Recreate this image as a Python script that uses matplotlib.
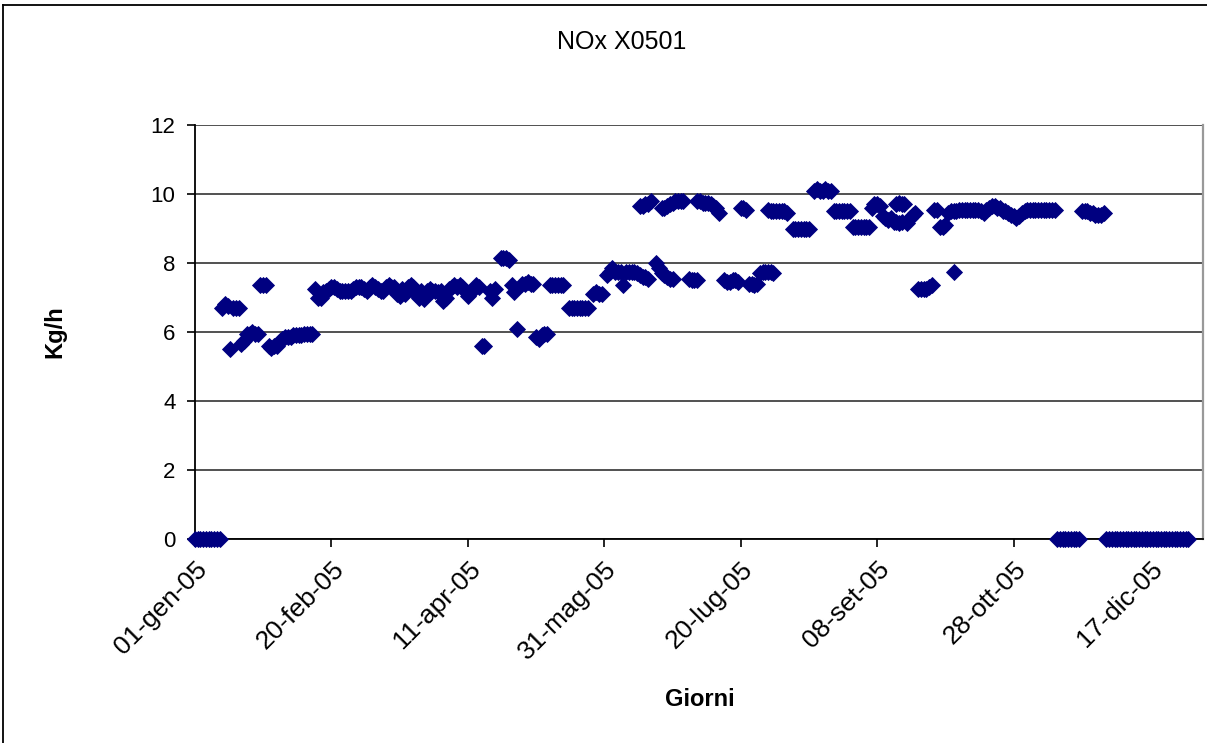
import matplotlib
matplotlib.use("Agg")
import matplotlib.pyplot as plt
from matplotlib.lines import Line2D

plt.rcParams['font.family'] = ['Liberation Sans', 'DejaVu Sans']

# ---------------- data (day offset from 01-gen-05, Kg/h) ----------------
giorni_1 = [0, 1, 2, 3, 4, 5, 6, 7, 8, 9,
            10, 11, 12, 13, 14, 15, 16,
            17, 18, 19, 20, 21, 22, 23,
            24, 25, 26,
            27, 28, 29, 30,
            31, 32, 33, 34, 35, 36, 37, 38, 39, 40, 41, 42, 43,
            44, 45, 46]
kgh_1 = [0, 0, 0, 0, 0, 0, 0, 0, 0, 0,
         6.7, 6.8, 6.75, 5.5, 6.7, 6.7, 6.7,
         5.65, 5.75, 5.95, 5.95, 6.0, 5.95, 5.95,
         7.35, 7.35, 7.35,
         5.6, 5.55, 5.6, 5.6,
         5.75, 5.8, 5.85, 5.85, 5.85, 5.9, 5.9, 5.9, 5.9, 5.95, 5.95, 5.95, 5.95,
         7.25, 7.0, 7.0]

giorni_2 = [47, 48, 49, 50, 51, 52, 53, 54, 55, 56,
            57, 58, 59, 60, 61, 62, 63, 64, 65, 66,
            67, 68, 69, 70, 71, 72, 73, 74, 75, 76,
            77, 78, 79, 80, 81, 82, 83, 84, 85, 86,
            87, 88, 89, 90, 91, 92, 93, 94, 95, 96,
            97, 98, 99, 100, 101, 102, 103, 104]
kgh_2 = [7.15, 7.2, 7.25, 7.3, 7.3, 7.25, 7.2, 7.2, 7.2, 7.2,
         7.2, 7.25, 7.3, 7.3, 7.3, 7.25, 7.2, 7.3, 7.35, 7.3,
         7.25, 7.2, 7.2, 7.3, 7.35, 7.3, 7.3, 7.1, 7.05, 7.25,
         7.1, 7.3, 7.35, 7.3, 7.1, 7.0, 7.2, 6.95, 7.2, 7.25,
         7.2, 7.2, 7.15, 7.2, 6.9, 7.0, 7.25, 7.3, 7.35, 7.3,
         7.35, 7.3, 7.2, 7.05, 7.15, 7.25, 7.35, 7.3]

giorni_3 = [105, 106, 108, 109, 110, 112, 113, 114, 115, 116, 117, 118,
            120, 121, 122, 123, 124, 125, 126, 127, 128, 129,
            130, 131, 132, 133, 134, 135,
            137, 138, 139, 140, 141, 142, 143, 144,
            146, 147, 148, 149]
kgh_3 = [5.6, 5.6, 7.2, 7.0, 7.25, 8.15, 8.15, 8.15, 8.1, 7.35, 7.15, 6.1,
         7.4, 7.4, 7.45, 7.4, 7.4, 5.85, 5.8, 5.9, 5.95, 5.95,
         7.35, 7.35, 7.35, 7.35, 7.35, 7.35,
         6.7, 6.7, 6.7, 6.7, 6.7, 6.7, 6.7, 6.7,
         7.1, 7.15, 7.1, 7.1]

giorni_4 = [151, 152, 153, 154, 155, 156, 157, 158, 159, 160, 161, 162, 163, 164, 165, 166,
            163, 164, 165, 166, 167,
            169, 170, 171, 172, 173, 174, 175,
            171, 172, 173, 174, 175, 176, 177, 178, 179,
            181, 182, 183, 184,
            184, 185, 186, 187, 188, 189, 190, 191, 192,
            194, 195, 196, 197, 198, 199,
            200, 201, 202,
            203, 204, 205, 206,
            207, 208, 209, 210, 211, 212]
kgh_4 = [7.65, 7.75, 7.85, 7.75, 7.75, 7.75, 7.35, 7.75, 7.75, 7.75, 7.75, 7.7, 7.65, 7.6, 7.6, 7.55,
         9.65, 9.65, 9.7, 9.7, 9.8,
         8.0, 7.85, 7.7, 7.65, 7.6, 7.55, 7.55,
         9.6, 9.6, 9.65, 9.7, 9.75, 9.8, 9.8, 9.8, 9.8,
         7.55, 7.5, 7.5, 7.5,
         9.8, 9.8, 9.75, 9.75, 9.75, 9.7, 9.65, 9.6, 9.45,
         7.5, 7.45, 7.45, 7.5, 7.5, 7.45,
         9.6, 9.6, 9.55,
         7.4, 7.4, 7.35, 7.4,
         7.7, 7.75, 7.75, 7.75, 7.75, 7.7]

giorni_5 = [210, 211, 212, 213, 214, 215, 216, 217,
            219, 220, 221, 222, 223, 224, 225,
            227, 228, 229, 230, 231, 232, 233,
            234, 235, 236, 237, 238, 239, 240,
            241, 242, 243, 244, 245, 246, 247,
            248, 249, 250, 251,
            252, 253, 254, 255, 256, 257, 258, 259,
            257, 258, 259, 260,
            261, 262, 263, 264,
            265, 266, 267, 268, 269, 270,
            271, 272, 273, 274, 275,
            278]
kgh_5 = [9.55, 9.5, 9.5, 9.5, 9.5, 9.5, 9.5, 9.45,
         9.0, 9.0, 9.0, 9.0, 9.0, 9.0, 9.0,
         10.1, 10.15, 10.1, 10.1, 10.15, 10.1, 10.1,
         9.5, 9.5, 9.5, 9.5, 9.5, 9.5, 9.5,
         9.05, 9.05, 9.05, 9.05, 9.05, 9.05, 9.05,
         9.6, 9.7, 9.7, 9.65,
         9.35, 9.3, 9.25, 9.3, 9.2, 9.2, 9.15, 9.2,
         9.7, 9.75, 9.7, 9.7,
         9.15, 9.3, 9.4, 9.45,
         7.25, 7.25, 7.25, 7.25, 7.3, 7.35,
         9.55, 9.55, 9.05, 9.05, 9.1,
         7.75]

giorni_6 = [276, 277, 278, 279, 280, 281, 282, 283, 284, 285,
            286, 287, 288, 289, 290, 291, 292, 293, 294, 295,
            296, 297, 298, 299, 300, 301, 302, 303, 304, 305,
            306, 307, 308, 309, 310, 311, 312, 313, 314, 315,
            316, 317, 318, 319, 320, 321, 322, 323, 324,
            325, 326, 327, 328, 329, 330, 331, 332, 333,
            334, 335, 336, 337, 338, 339, 340, 341, 342, 343,
            344, 345, 346, 347, 348, 349, 350, 351, 352, 353,
            354, 355, 356, 357, 358, 359, 360, 361, 362, 363, 364]
kgh_6 = [9.45, 9.5, 9.5, 9.5, 9.55, 9.55, 9.55, 9.55, 9.55, 9.55,
         9.55, 9.55, 9.5, 9.45, 9.55, 9.6, 9.65, 9.65, 9.6, 9.6,
         9.5, 9.5, 9.45, 9.4, 9.35, 9.3, 9.35, 9.45, 9.5, 9.55,
         9.55, 9.55, 9.55, 9.55, 9.55, 9.55, 9.55, 9.55, 9.55, 9.55,
         0, 0, 0, 0, 0, 0, 0, 0, 0,
         9.5, 9.5, 9.5, 9.45, 9.45, 9.4, 9.4, 9.4, 9.45,
         0, 0, 0, 0, 0, 0, 0, 0, 0, 0,
         0, 0, 0, 0, 0, 0, 0, 0, 0, 0,
         0, 0, 0, 0, 0, 0, 0, 0, 0, 0, 0]

tick_days = [0, 50, 100, 150, 200, 250, 300, 350]
tick_labels = ["01-gen-05", "20-feb-05", "11-apr-05", "31-mag-05",
               "20-lug-05", "08-set-05", "28-ott-05", "17-dic-05"]
y_ticks = [0, 2, 4, 6, 8, 10, 12]

titolo = "NOx X0501"
etichetta_x = "Giorni"
etichetta_y = "Kg/h"

giorni = giorni_1 + giorni_2 + giorni_3 + giorni_4 + giorni_5 + giorni_6
kgh = kgh_1 + kgh_2 + kgh_3 + kgh_4 + kgh_5 + kgh_6

# ---------------- figure ----------------
W, H = 1207, 743
fig = plt.figure(figsize=(W / 100, H / 100), dpi=100)
fig.patch.set_facecolor("white")

L, R, T, B = 195, 1203, 125, 539
ax = fig.add_axes([L / W, (H - B) / H, (R - L) / W, (B - T) / H])

ax.plot(giorni, kgh, linestyle="none", marker="D", markersize=8.0,
        color="#000080", markeredgecolor="#000080", markeredgewidth=0.6,
        clip_on=False, zorder=5)

ax.set_xlim(0, 369.4)
ax.set_ylim(0, 12)

ax.set_yticks(y_ticks)
ax.set_yticklabels([str(v) for v in y_ticks], fontsize=16)
ax.set_xticks(tick_days)
ax.set_xticklabels(tick_labels, rotation=45, ha="right", va="top",
                   rotation_mode="anchor", fontsize=19)

ax.tick_params(axis="both", direction="out", length=6, width=1.2,
               colors="black")
ax.tick_params(axis="x", pad=7)
ax.tick_params(axis="y", pad=8)

ax.yaxis.grid(True, color="#333333", linewidth=1.2)
ax.set_axisbelow(True)

ax.spines["top"].set_visible(False)
ax.spines["right"].set_color("#999999")
ax.spines["right"].set_linewidth(1.6)
ax.spines["left"].set_color("black")
ax.spines["left"].set_linewidth(1.3)
ax.spines["bottom"].set_color("black")
ax.spines["bottom"].set_linewidth(1.3)

fig.text(622 / W, 1 - 42 / H, titolo, ha="center", va="center", fontsize=18)
fig.text(700 / W, 1 - 700 / H, etichetta_x, ha="center", va="center",
         fontsize=17, fontweight="bold")
fig.text(55 / W, 1 - 332 / H, etichetta_y, ha="center", va="center",
         fontsize=17, fontweight="bold", rotation=90)

# outer chart border (left and top visible)
fig.add_artist(Line2D([3 / W, 3 / W], [0, 1 - 5 / H], transform=fig.transFigure,
                      color="black", linewidth=1.3))
fig.add_artist(Line2D([3 / W, 1], [1 - 5 / H, 1 - 5 / H], transform=fig.transFigure,
                      color="black", linewidth=1.3))

fig.savefig("out.png", dpi=100)
